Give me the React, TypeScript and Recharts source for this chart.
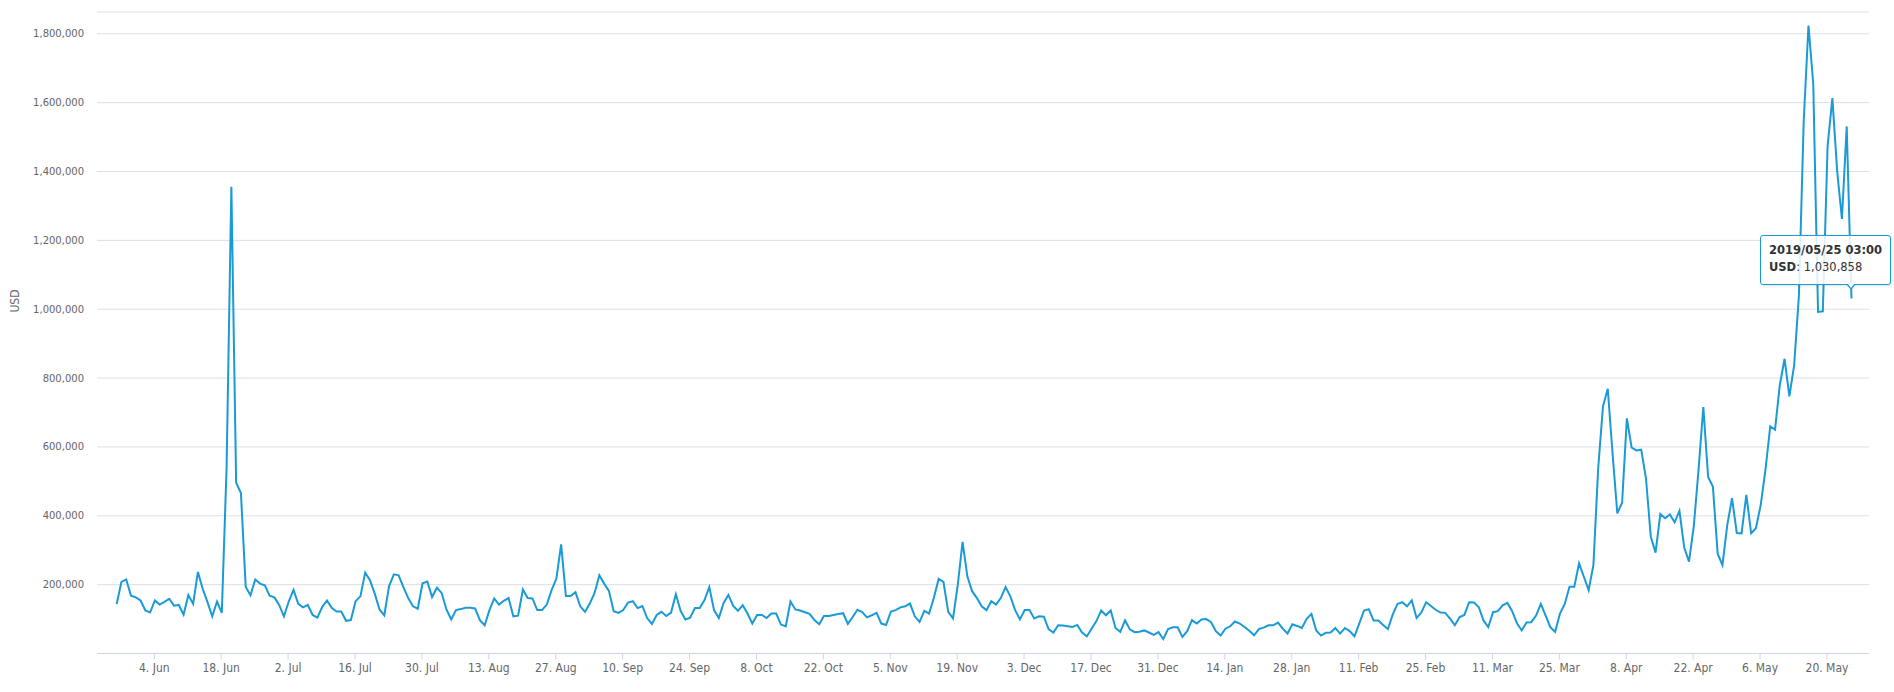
import { LineChart, Line, XAxis, YAxis, CartesianGrid, Tooltip } from "recharts";

// daily USD volume, thousands, 2018-05-27 .. 2019-05-25 (03:00 each day)
const usdThousands = [
  144, 208, 215, 168, 163, 154, 125, 119, 154, 142,
  150, 159, 139, 141, 113, 170, 144, 237, 188, 149,
  108, 151, 118, 540, 1356, 496, 466, 193, 169, 215,
  203, 198, 168, 163, 141, 108, 151, 185, 144, 134,
  141, 112, 104, 135, 154, 133, 122, 122, 95, 97,
  152, 166, 235, 213, 174, 128, 111, 196, 230, 227,
  193, 161, 137, 130, 204, 209, 164, 191, 176, 128,
  99, 126, 129, 133, 133, 131, 97, 82, 126, 160,
  142, 153, 161, 108, 110, 186, 161, 160, 126, 126,
  142, 184, 217, 317, 167, 167, 178, 137, 121, 145,
  176, 227, 203, 182, 123, 118, 126, 148, 152, 132,
  138, 103, 86, 112, 121, 109, 119, 172, 124, 99,
  104, 132, 132, 155, 193, 126, 103, 147, 170, 138,
  124, 140, 116, 87, 112, 112, 103, 116, 116, 84,
  79, 151, 128, 125, 120, 115, 97, 85, 109, 109,
  112, 115, 117, 86, 106, 127, 120, 105, 111, 118,
  87, 83, 122, 126, 134, 137, 145, 108, 92, 124,
  116, 162, 217, 208, 121, 102, 200, 324, 224, 181,
  161, 137, 126, 152, 142, 161, 193, 166, 126, 99,
  126, 126, 102, 108, 107, 71, 61, 82, 81, 79,
  77, 83, 61, 50, 72, 94, 125, 111, 125, 74,
  63, 96, 70, 62, 63, 67, 61, 54, 62, 42,
  71, 76, 76, 48, 65, 97, 87, 99, 100, 91,
  65, 52, 72, 79, 93, 87, 77, 66, 53, 71,
  75, 82, 82, 90, 72, 58, 85, 80, 74, 101,
  115, 67, 52, 60, 61, 74, 58, 74, 65, 50,
  87, 125, 129, 96, 96, 83, 71, 113, 144, 149,
  137, 154, 103, 119, 149, 138, 127, 119, 118, 101,
  82, 106, 112, 149, 148, 135, 96, 77, 120, 123,
  140, 147, 123, 88, 67, 90, 91, 110, 144, 110,
  76, 63, 116, 144, 194, 194, 262, 223, 184, 257,
  538, 718, 769, 582, 407, 438, 683, 598, 590, 592,
  509, 340, 293, 405, 393, 404, 381, 414, 308, 267,
  369, 534, 716, 513, 485, 290, 257, 372, 451, 350,
  349, 461, 349, 364, 431, 533, 660, 650, 780, 856,
  747, 837, 1040, 1546, 1824, 1655, 992, 994, 1474, 1613,
  1402, 1262, 1531, 1030.858,
];

const tickDates = [
  "2018-06-04", "2018-06-18", "2018-07-02", "2018-07-16", "2018-07-30",
  "2018-08-13", "2018-08-27", "2018-09-10", "2018-09-24", "2018-10-08",
  "2018-10-22", "2018-11-05", "2018-11-19", "2018-12-03", "2018-12-17",
  "2018-12-31", "2019-01-14", "2019-01-28", "2019-02-11", "2019-02-25",
  "2019-03-11", "2019-03-25", "2019-04-08", "2019-04-22", "2019-05-06",
  "2019-05-20",
];
const tickLabels = [
  "4. Jun", "18. Jun", "2. Jul", "16. Jul", "30. Jul",
  "13. Aug", "27. Aug", "10. Sep", "24. Sep", "8. Oct",
  "22. Oct", "5. Nov", "19. Nov", "3. Dec", "17. Dec",
  "31. Dec", "14. Jan", "28. Jan", "11. Feb", "25. Feb",
  "11. Mar", "25. Mar", "8. Apr", "22. Apr", "6. May",
  "20. May",
];
const yTicks = [200000, 400000, 600000, 800000, 1000000, 1200000, 1400000, 1600000, 1800000];

const DAY = 86400000;
const firstPoint = Date.UTC(2018, 4, 27, 3);
const data = usdThousands.map((v, i) => ({
  t: firstPoint + i * DAY,
  usd: Math.round(v * 1000),
}));

const tickTimes = tickDates.map((d) => Date.parse(d + "T00:00:00Z"));
const labelFor: Record<number, string> = {};
tickTimes.forEach((t, i) => (labelFor[t] = tickLabels[i]));

const xDomain = [tickTimes[0] - 11.99 * DAY, tickTimes[tickTimes.length - 1] + 8.79 * DAY];
const LINE = "#1a9ad6";
const AXIS = "#ccd6eb";
const GRID = "#dcdfe5";

const pad = (n: number) => String(n).padStart(2, "0");
const fmtStamp = (t: number) => {
  const d = new Date(t);
  return `${d.getUTCFullYear()}/${pad(d.getUTCMonth() + 1)}/${pad(d.getUTCDate())} ${pad(d.getUTCHours())}:${pad(d.getUTCMinutes())}`;
};

const TipBox = ({ active, payload }: any) => {
  if (!active || !payload || !payload.length) return null;
  const p = payload[0].payload;
  return (
    <div
      style={{
        position: "relative",
        background: "rgba(255,255,255,0.85)",
        border: `1px solid ${LINE}`,
        borderRadius: 3,
        padding: "6px 8px 9px 8px",
        fontFamily: "'DejaVu Sans', Verdana, sans-serif",
        fontSize: 11.5,
        lineHeight: "16.5px",
        color: "#333",
        whiteSpace: "nowrap",
        boxShadow: "1px 1px 3px rgba(0,0,0,0.12)",
      }}
    >
      <div style={{ fontWeight: "bold" }}>{fmtStamp(p.t)}</div>
      <div>
        <b>USD</b>: {p.usd.toLocaleString("en-US")}
      </div>
      <div
        style={{
          position: "absolute",
          left: 85,
          bottom: -6,
          width: 0,
          height: 0,
          borderLeft: "5px solid transparent",
          borderRight: "5px solid transparent",
          borderTop: `6px solid ${LINE}`,
        }}
      />
      <div
        style={{
          position: "absolute",
          left: 86,
          bottom: -4,
          width: 0,
          height: 0,
          borderLeft: "4px solid transparent",
          borderRight: "4px solid transparent",
          borderTop: "5px solid #fff",
        }}
      />
    </div>
  );
};

export default function App() {
  return (
    <div style={{ position: "absolute", left: 0, top: 0 }}>
      <LineChart
        width={1894}
        height={692}
        data={data}
        margin={{ top: 12, right: 25, bottom: 0, left: 0 }}
      >
        <CartesianGrid vertical={false} stroke={GRID} />
        <XAxis
          dataKey="t"
          type="number"
          scale="time"
          domain={xDomain}
          ticks={tickTimes}
          tickFormatter={(t: number) => labelFor[t] ?? ""}
          interval={0}
          height={38.5}
          tickSize={6}
          tickMargin={4}
          axisLine={{ stroke: AXIS }}
          tickLine={{ stroke: AXIS }}
          tick={{
            fontSize: 12,
            fill: "#666",
            fontFamily: "'DejaVu Sans Condensed', 'DejaVu Sans', sans-serif",
            style: { fontStretch: "condensed" },
          }}
        />
        <YAxis
          width={97}
          domain={[0, 1863300]}
          ticks={yTicks}
          interval={0}
          axisLine={false}
          tickLine={false}
          tickSize={0}
          tickMargin={13}
          tickFormatter={(v: number) => v.toLocaleString("en-US")}
          tick={{ fontSize: 10, fill: "#666", fontFamily: "'DejaVu Sans', Verdana, sans-serif" }}
          label={{
            content: () => (
              <text
                x={15}
                y={301}
                transform="rotate(-90 15 301)"
                textAnchor="middle"
                dominantBaseline="central"
                fill="#666"
                fontSize={12}
                fontFamily="'DejaVu Sans Condensed', 'DejaVu Sans', sans-serif"
                style={{ fontStretch: "condensed" }}
              >
                USD
              </text>
            ),
          }}
        />
        <Tooltip
          active={true}
          defaultIndex={data.length - 1}
          position={{ x: 1760, y: 235 }}
          cursor={false}
          isAnimationActive={false}
          content={<TipBox />}
        />
        <Line
          type="linear"
          dataKey="usd"
          stroke={LINE}
          strokeWidth={2}
          dot={false}
          activeDot={false}
          isAnimationActive={false}
        />
      </LineChart>
    </div>
  );
}
